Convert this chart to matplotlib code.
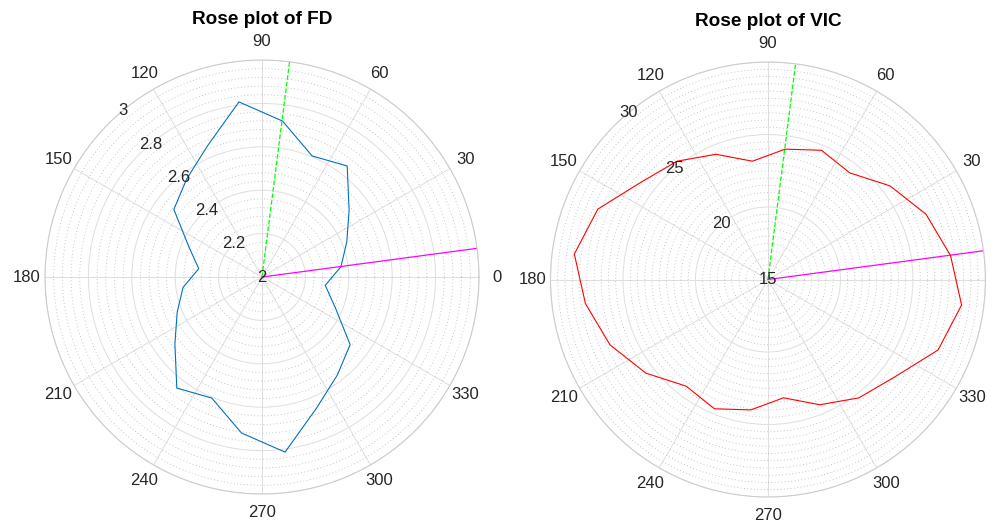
import numpy as np
import matplotlib.pyplot as plt

plt.rcParams['font.family'] = ['Liberation Sans', 'DejaVu Sans']

# bin centres (deg) of the rose plots
theta_deg = [7.5, 22.5, 37.5, 52.5, 67.5, 82.5, 97.5, 112.5, 127.5, 142.5, 157.5, 172.5,
             187.5, 202.5, 217.5, 232.5, 247.5, 262.5, 277.5, 292.5, 307.5, 322.5, 337.5, 352.5]

fd = [2.367, 2.423, 2.506, 2.645, 2.604, 2.725, 2.814, 2.655, 2.570, 2.512, 2.365, 2.294,
      2.367, 2.423, 2.506, 2.645, 2.604, 2.725, 2.814, 2.655, 2.570, 2.512, 2.365, 2.294]
vic = [27.70, 26.79, 25.61, 24.27, 24.65, 24.07, 23.23, 24.35, 25.29, 26.03, 27.70, 28.47,
       27.70, 26.79, 25.61, 24.27, 24.65, 24.07, 23.23, 24.35, 25.29, 26.03, 27.70, 28.47]

# principal directions (deg)
dir_green = 82.7
dir_magenta = 7.6

fd_rticks = [2, 2.2, 2.4, 2.6, 2.8, 3]
fd_rticklabels = ['2', '2.2', '2.4', '2.6', '2.8', '3']
vic_rticks = [15, 20, 25, 30]
vic_rticklabels = ['15', '20', '25', '30']
theta_ticks = list(range(0, 360, 30))

fig = plt.figure(figsize=(9.96, 5.27), dpi=100)


def rose(rect, title, vals, rticks, rlabels, rminor, color):
    ax = fig.add_axes(rect, projection='polar')
    th = np.deg2rad(theta_deg + theta_deg[:1])
    ax.plot(th, vals + vals[:1], color=color, lw=0.8)
    rmin, rmax = rticks[0], rticks[-1]
    ax.plot(np.deg2rad([dir_green, dir_green]), [rmin, rmax], '--', color='#00ff00', lw=0.9)
    ax.plot(np.deg2rad([dir_magenta, dir_magenta]), [rmin, rmax], '-', color='#ff00ff', lw=0.9)
    ax.set_rlim(rmin, rmax)
    ax.set_rticks(rticks)
    ax.set_yticks(np.arange(rmin, rmax + 1e-9, rminor), minor=True)
    ax.set_yticklabels([])
    ax.set_thetagrids(theta_ticks, [str(t) for t in theta_ticks])
    ax.tick_params(axis='x', pad=2.5, labelsize=12, labelcolor='#262626')
    ax.grid(True, which='major', color='#dedede', lw=0.7, ls='-')
    ax.yaxis.grid(True, which='minor', color='#b5b5b5', lw=0.6, ls=(0, (1, 3)))
    ax.spines['polar'].set_color('#cccccc')
    ax.spines['polar'].set_linewidth(0.8)
    for r, lab in zip(rticks, rlabels):
        ax.text(np.deg2rad(130), r, lab, ha='center', va='center', fontsize=12,
                color='#262626')
    ax.set_title(title, fontsize=13.7, fontweight='bold', pad=26)
    return ax


rose([0.0452, 0.0626, 0.4357, 0.8235], 'Rose plot of FD', fd,
     fd_rticks, fd_rticklabels, 0.04, '#0072bd')
rose([0.5527, 0.0569, 0.4367, 0.8254], 'Rose plot of VIC', vic,
     vic_rticks, vic_rticklabels, 0.5, '#ff0000')

fig.savefig('out.png', dpi=100)
